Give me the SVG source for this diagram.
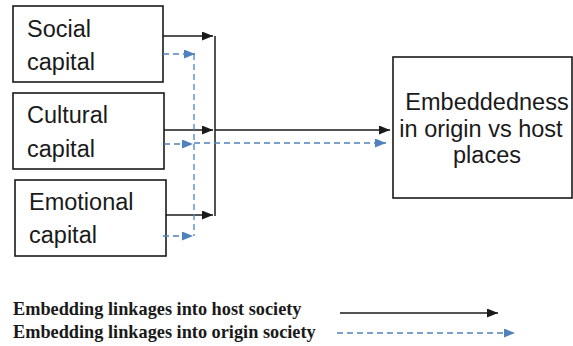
<svg xmlns="http://www.w3.org/2000/svg" width="573" height="346" viewBox="0 0 573 346">
  <style>
    .box { fill: #fff; stroke: #1a1a1a; stroke-width: 1.6; }
    .lbl { font-family: "Liberation Sans", Arial, sans-serif; font-size: 23.5px; fill: #1a1a1a; }
    .big { font-family: "Liberation Sans", Arial, sans-serif; font-size: 23.5px; fill: #1a1a1a; text-anchor: middle; }
    .host { fill: none; stroke: #1a1a1a; stroke-width: 1.5; }
    .origin { fill: none; stroke: #4f81bd; stroke-width: 1.3; stroke-dasharray: 6 4; }
    .legend { font-family: "Liberation Serif", "Times New Roman", serif; font-size: 18.3px; font-weight: bold; fill: #1a1a1a; }
  </style>
  <defs>
    <marker id="arrH" markerWidth="11" markerHeight="9" refX="11" refY="4.5" orient="auto" markerUnits="userSpaceOnUse">
      <path d="M0,0 L11,4.5 L0,9 Z" fill="#1a1a1a"/>
    </marker>
    <marker id="arrO" markerWidth="11" markerHeight="9" refX="11" refY="4.5" orient="auto" markerUnits="userSpaceOnUse">
      <path d="M0,0 L11,4.5 L0,9 Z" fill="#4f81bd"/>
    </marker>
  </defs>

  <g id="social">
    <rect class="box" x="13" y="6" width="150" height="76"/>
    <text class="lbl" x="27" y="37">Social</text>
    <text class="lbl" x="27" y="70">capital</text>
  </g>
  <g id="cultural">
    <rect class="box" x="13" y="93" width="151" height="76"/>
    <text class="lbl" x="27" y="123">Cultural</text>
    <text class="lbl" x="27" y="157">capital</text>
  </g>
  <g id="emotional">
    <rect class="box" x="15" y="180" width="151" height="76"/>
    <text class="lbl" x="29" y="210">Emotional</text>
    <text class="lbl" x="29" y="243">capital</text>
  </g>
  <g id="embeddedness">
    <rect class="box" x="393" y="57" width="179" height="141"/>
    <text class="big" x="487" y="110">Embeddedness</text>
    <text class="big" x="481" y="137">in origin vs host</text>
    <text class="big" x="487" y="163">places</text>
  </g>

  <g id="connectors">
    <!-- host society linkages -->
    <path class="host" d="M163,36 H213" marker-end="url(#arrH)"/>
    <path class="host" d="M164,130 H213" marker-end="url(#arrH)"/>
    <path class="host" d="M166,215 H213" marker-end="url(#arrH)"/>
    <path class="host" d="M215,36 V216"/>
    <path class="host" d="M215,130 H390" marker-end="url(#arrH)"/>
    <!-- origin society linkages -->
    <path class="origin" d="M163,54 H195" marker-end="url(#arrO)"/>
    <path class="origin" d="M164,144 H193" marker-end="url(#arrO)"/>
    <path class="origin" d="M163,236 H193" marker-end="url(#arrO)"/>
    <path class="origin" d="M194,54 V236"/>
    <path class="origin" d="M194,143 H386" marker-end="url(#arrO)"/>
  </g>

  <g id="legend">
    <text class="legend" x="13" y="315">Embedding linkages into host society</text>
    <text class="legend" x="13" y="338">Embedding linkages into origin society</text>
    <path class="host" d="M340,313 H498" marker-end="url(#arrH)"/>
    <path class="origin" d="M337,333 H515" marker-end="url(#arrO)"/>
  </g>
</svg>
